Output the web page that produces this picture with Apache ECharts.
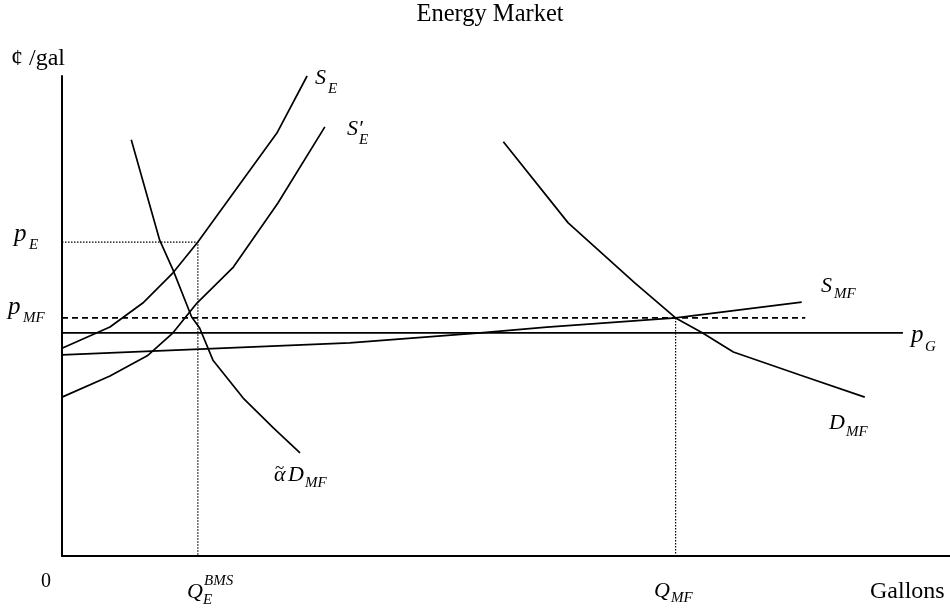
<!DOCTYPE html>
<html>
<head>
<meta charset="utf-8">
<script src="https://cdn.jsdelivr.net/npm/echarts@6/dist/echarts.min.js"></script>
<style>
html,body{margin:0;padding:0;background:#fff;}
#chart{width:950px;height:610px;}
</style>
</head>
<body>
<div id="chart"></div>
<script>
// Data (quantity units 0-100, price units 0-100)
const sE      = [[0,43.3],[5.4,47.7],[9.1,52.7],[12.5,59.0],[15.3,65.4],[19.3,75.6],[24.2,88.1],[27.6,100]];
const sEprime = [[0,33.1],[5.4,37.5],[9.6,41.7],[12.5,46.5],[15.2,52.7],[19.3,60.2],[24.3,73.5],[29.6,89.4]];
const alphaDMF= [[7.8,86.7],[11.0,65.8],[12.5,59.6],[14.6,49.8],[15.5,47.5],[17.0,40.8],[20.4,32.9],[23.8,26.7],[26.8,21.5]];
const sMF     = [[0,41.9],[32.4,44.4],[47.1,46.5],[54.6,47.7],[69.1,49.6],[83.3,52.9]];
const dMF     = [[49.7,86.3],[57.0,69.4],[64.5,56.9],[69.1,49.6],[72.1,46.5],[75.6,42.5],[83.1,37.7],[90.4,33.1]];
const pE = 65.4, pMF = 49.6, pG = 46.5;
const qEBMS = 15.3, qMF = 69.1;
const pMFend = 83.7, pGstart = -0.45, pGend = 94.7;

const chart = echarts.init(document.getElementById('chart'));
const black = '#000';
function line(name, data, width, type, clip) {
  return {name, type:'line', data, showSymbol:false, symbol:'none', silent:true, clip: clip !== false,
          lineStyle:{color:black, width, type}, animation:false};
}
const serif = '"Liberation Serif","Times New Roman",serif';
function txt(x, baseline, text, size, italic, align) {
  return {type:'text', x, y: baseline - size*0.33, silent:true,
    style:{text, font:(italic?'italic ':'') + size + 'px ' + serif, fill:black,
           align: align || 'left', verticalAlign:'middle'}};
}
const M = 22, S = 15, P = 25;
const graphics = [
  txt(490, 23, 'Energy Market', 24.5, false, 'center'),
  txt(11, 67, '¢ /gal', 24, false),
  txt(46, 588, '0', 20, false, 'center'),
  txt(870, 600, 'Gallons', 24, false),
  // Q_E^BMS
  txt(187, 599, 'Q', M, true), txt(203, 605, 'E', S, true), txt(204, 586, 'BMS', S, true),
  // Q_MF
  txt(654, 598, 'Q', M, true), txt(671, 603, 'MF', S, true),
  // p_E
  txt(14, 243, 'p', P, true), txt(29, 250, 'E', S, true),
  // p_MF
  txt(8, 316, 'p', P, true), txt(23, 323, 'MF', S, true),
  // p_G
  txt(911, 344, 'p', P, true), txt(925, 352, 'G', S, true),
  // S_E
  txt(315, 85, 'S', M, true), txt(328, 94, 'E', S, true),
  // S'_E
  txt(347, 136, 'S\u2032', M, true), txt(359, 145, 'E', S, true),
  // S_MF
  txt(821, 293, 'S', M, true), txt(834, 299, 'MF', S, true),
  // D_MF
  txt(829, 430, 'D', M, true), txt(846, 437, 'MF', S, true),
  // alpha~ D_MF
  txt(274, 482, '\u03B1', M, true), txt(275, 474, '~', 17, false), txt(288, 482, 'D', M, true), txt(305, 488, 'MF', S, true)
];

chart.setOption({
  animation:false,
  backgroundColor:'#fff',
  grid:{left:62, top:76, width:888, height:480, containLabel:false},
  xAxis:{type:'value', min:0, max:100, axisLine:{show:true, onZero:false, lineStyle:{color:black, width:2}},
         axisTick:{show:false}, axisLabel:{show:false}, splitLine:{show:false}},
  yAxis:{type:'value', min:0, max:100, axisLine:{show:true, onZero:false, lineStyle:{color:black, width:2}},
         axisTick:{show:false}, axisLabel:{show:false}, splitLine:{show:false}},
  series:[
    line('pE guide', [[0,pE],[qEBMS,pE],[qEBMS,0]], 1.2, [1.5,1.5]),
    line('QMF guide', [[qMF,pMF],[qMF,0]], 1.2, [1.5,1.5]),
    line('pMF', [[0,pMF],[pMFend,pMF]], 1.6, [6,4]),
    line('pG', [[pGstart,pG],[pGend,pG]], 1.7, 'solid', false),
    line('SE', sE, 1.7, 'solid', false),
    line('SE prime', sEprime, 1.7, 'solid'),
    line('alpha DMF', alphaDMF, 1.7, 'solid'),
    line('SMF', sMF, 1.7, 'solid'),
    line('DMF', dMF, 1.7, 'solid')
  ],
  graphic: graphics
});
</script>
</body>
</html>
